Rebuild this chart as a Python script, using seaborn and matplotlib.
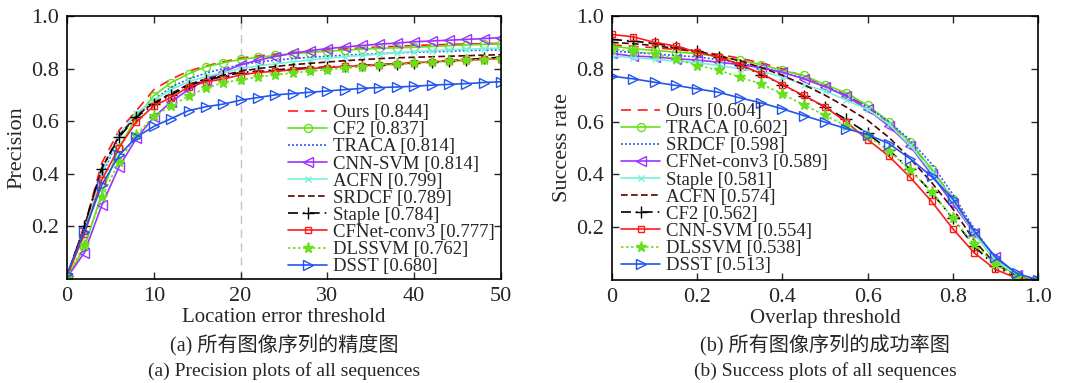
import numpy as np
import pandas as pd
import matplotlib
matplotlib.use("Agg")
import matplotlib.pyplot as plt
import seaborn as sns

# ---------------- data ----------------
prec_x = list(range(0, 51, 2))
prec_names = ["Ours [0.844]", "CF2 [0.837]", "TRACA [0.814]", "CNN-SVM [0.814]",
              "ACFN [0.799]", "SRDCF [0.789]", "Staple [0.784]", "CFNet-conv3 [0.777]",
              "DLSSVM [0.762]", "DSST [0.680]"]
prec_ours = [0.01, 0.20, 0.44, 0.565, 0.64, 0.72, 0.76, 0.79, 0.81, 0.826, 0.84, 0.848, 0.855,
             0.861, 0.866, 0.871, 0.875, 0.879, 0.882, 0.885, 0.888, 0.89, 0.892, 0.894, 0.895, 0.896]
prec_cf2 = [0.005, 0.12, 0.325, 0.50, 0.615, 0.697, 0.747, 0.78, 0.807, 0.822, 0.835, 0.843, 0.85,
            0.857, 0.861, 0.866, 0.87, 0.874, 0.877, 0.879, 0.881, 0.884, 0.887, 0.89, 0.892, 0.894]
prec_traca = [0.015, 0.19, 0.39, 0.54, 0.62, 0.68, 0.73, 0.76, 0.783, 0.80, 0.815, 0.825, 0.832,
              0.838, 0.843, 0.847, 0.851, 0.854, 0.857, 0.86, 0.862, 0.864, 0.866, 0.868, 0.87, 0.871]
prec_cnnsvm = [0.005, 0.10, 0.28, 0.427, 0.535, 0.615, 0.674, 0.72, 0.757, 0.788, 0.814, 0.832, 0.846,
               0.858, 0.868, 0.876, 0.882, 0.888, 0.893, 0.897, 0.902, 0.905, 0.908, 0.911, 0.914, 0.918]
prec_acfn = [0.01, 0.19, 0.40, 0.55, 0.63, 0.68, 0.72, 0.75, 0.77, 0.785, 0.80, 0.81, 0.818,
             0.826, 0.832, 0.84, 0.845, 0.85, 0.855, 0.86, 0.865, 0.868, 0.871, 0.874, 0.876, 0.878]
prec_srdcf = [0.01, 0.20, 0.42, 0.545, 0.62, 0.67, 0.705, 0.74, 0.76, 0.775, 0.79, 0.80, 0.808,
              0.815, 0.82, 0.825, 0.83, 0.834, 0.838, 0.841, 0.843, 0.845, 0.847, 0.849, 0.851, 0.853]
prec_staple = [0.01, 0.20, 0.42, 0.54, 0.615, 0.665, 0.70, 0.735, 0.755, 0.77, 0.785, 0.79, 0.795,
               0.80, 0.803, 0.806, 0.809, 0.812, 0.815, 0.818, 0.822, 0.826, 0.83, 0.834, 0.839, 0.843]
prec_cfnet = [0.01, 0.17, 0.376, 0.50, 0.598, 0.658, 0.69, 0.73, 0.75, 0.76, 0.776, 0.785, 0.79,
              0.795, 0.80, 0.804, 0.808, 0.811, 0.815, 0.818, 0.822, 0.826, 0.829, 0.832, 0.835, 0.838]
prec_dlssvm = [0.005, 0.13, 0.31, 0.446, 0.548, 0.62, 0.658, 0.696, 0.725, 0.747, 0.757, 0.768, 0.776,
               0.784, 0.79, 0.796, 0.802, 0.807, 0.812, 0.816, 0.82, 0.824, 0.828, 0.831, 0.834, 0.837]
prec_dsst = [0.02, 0.18, 0.357, 0.47, 0.54, 0.58, 0.61, 0.64, 0.655, 0.665, 0.68, 0.69, 0.70,
             0.705, 0.71, 0.715, 0.72, 0.725, 0.728, 0.73, 0.733, 0.737, 0.74, 0.743, 0.747, 0.75]

succ_x = [round(0.05 * i, 2) for i in range(21)]
succ_names = ["Ours [0.604]", "TRACA [0.602]", "SRDCF [0.598]", "CFNet-conv3 [0.589]",
              "Staple [0.581]", "ACFN [0.574]", "CF2 [0.562]", "CNN-SVM [0.554]",
              "DLSSVM [0.538]", "DSST [0.513]"]
succ_ours = [0.89, 0.885, 0.88, 0.873, 0.865, 0.855, 0.84, 0.822, 0.80, 0.772, 0.738, 0.70,
             0.655, 0.592, 0.515, 0.42, 0.31, 0.19, 0.08, 0.02, 0.0]
succ_traca = [0.886, 0.876, 0.87, 0.863, 0.858, 0.845, 0.833, 0.816, 0.794, 0.775, 0.74, 0.709,
              0.661, 0.60, 0.522, 0.421, 0.307, 0.179, 0.071, 0.017, 0.0]
succ_srdcf = [0.867, 0.862, 0.856, 0.85, 0.845, 0.835, 0.822, 0.807, 0.787, 0.765, 0.733, 0.70,
              0.655, 0.60, 0.53, 0.44, 0.325, 0.195, 0.08, 0.025, 0.0]
succ_cfnet = [0.858, 0.848, 0.845, 0.838, 0.833, 0.825, 0.816, 0.804, 0.787, 0.762, 0.732, 0.696,
              0.646, 0.583, 0.507, 0.40, 0.289, 0.179, 0.088, 0.02, 0.0]
succ_staple = [0.848, 0.842, 0.836, 0.829, 0.823, 0.813, 0.80, 0.79, 0.77, 0.74, 0.716, 0.681,
               0.646, 0.59, 0.51, 0.41, 0.30, 0.18, 0.075, 0.02, 0.0]
succ_acfn = [0.90, 0.895, 0.888, 0.877, 0.865, 0.85, 0.83, 0.805, 0.775, 0.74, 0.70, 0.655,
             0.605, 0.54, 0.46, 0.37, 0.27, 0.15, 0.06, 0.015, 0.0]
succ_cf2 = [0.911, 0.905, 0.896, 0.883, 0.867, 0.845, 0.816, 0.778, 0.74, 0.696, 0.656, 0.608,
            0.555, 0.492, 0.419, 0.333, 0.233, 0.128, 0.052, 0.01, 0.0]
succ_cnnsvm = [0.93, 0.921, 0.90, 0.886, 0.863, 0.845, 0.816, 0.782, 0.74, 0.699, 0.656, 0.598,
               0.532, 0.469, 0.389, 0.298, 0.194, 0.103, 0.04, 0.007, 0.0]
succ_dlssvm = [0.875, 0.866, 0.856, 0.838, 0.8125, 0.795, 0.768, 0.743, 0.705, 0.663, 0.624, 0.583,
               0.545, 0.49, 0.415, 0.335, 0.235, 0.135, 0.06, 0.012, 0.0]
succ_dsst = [0.772, 0.762, 0.749, 0.737, 0.724, 0.711, 0.69, 0.671, 0.648, 0.623, 0.598, 0.573,
             0.551, 0.517, 0.459, 0.393, 0.307, 0.185, 0.088, 0.025, 0.0]

prec_series = [prec_ours, prec_cf2, prec_traca, prec_cnnsvm, prec_acfn, prec_srdcf,
               prec_staple, prec_cfnet, prec_dlssvm, prec_dsst]
succ_series = [succ_ours, succ_traca, succ_srdcf, succ_cfnet, succ_staple, succ_acfn,
               succ_cf2, succ_cnnsvm, succ_dlssvm, succ_dsst]

# styles by rank
styles = [
    dict(color="#ff1a1a", linestyle=(0, (6, 4)), marker=None, ms=0),
    dict(color="#66e01a", linestyle="-", marker="o", markerfacecolor="none", ms=5.8),
    dict(color="#2a5cff", linestyle=(0, (1.2, 1.2)), marker=None, ms=0),
    dict(color="#9933ff", linestyle="-", marker="<", markerfacecolor="none", ms=6.5),
    dict(color="#77f2d8", linestyle="-", marker="x", ms=5),
    dict(color="#5a0000", linestyle=(0, (4, 2)), marker=None, ms=0),
    dict(color="#000000", linestyle=(0, (6, 3, 1, 3)), marker="+", ms=8),
    dict(color="#ff1a1a", linestyle="-", marker="s", markerfacecolor="none", ms=5),
    dict(color="#66e01a", linestyle=(0, (1.5, 1.5)), marker="*", ms=8),
    dict(color="#2255ee", linestyle="-", marker=">", markerfacecolor="none", ms=6.5),
]

sns.set_style("ticks")
plt.rcParams["font.family"] = ["Liberation Serif", "Noto Sans CJK SC", "DejaVu Sans"]

fig = plt.figure(figsize=(10.65, 3.83), dpi=100)
W, H = 1065, 383
ax1 = fig.add_axes([67 / W, 1 - 279 / H, (501 - 67) / W, (279 - 16) / H])
ax2 = fig.add_axes([612 / W, 1 - 280 / H, (1038 - 612) / W, (280 - 16) / H])

def draw(ax, xs, series, names):
    for ys, nm, st in zip(series, names, styles):
        extra = {}
        if st["marker"] is not None:
            extra["marker"] = st["marker"]
            extra["markersize"] = st["ms"]
            extra["markeredgecolor"] = st["color"]
            extra["markeredgewidth"] = 1.0
            if "markerfacecolor" in st:
                extra["markerfacecolor"] = st["markerfacecolor"]
        sns.lineplot(x=xs, y=ys, ax=ax, color=st["color"], linestyle=st["linestyle"],
                     linewidth=1.2, label=nm, **extra)

draw(ax1, prec_x, prec_series, prec_names)
draw(ax2, succ_x, succ_series, succ_names)

ax1.axvline(20, color="#c4c4c4", linestyle=(0, (6, 4)), linewidth=1.0, zorder=0)

for ax in (ax1, ax2):
    ax.set_ylim(0, 1.0)
    ax.set_yticks([0.2, 0.4, 0.6, 0.8, 1.0])
    ax.set_yticklabels(["0.2", "0.4", "0.6", "0.8", "1.0"])
    ax.tick_params(direction="in", top=True, right=True, labelsize=16, length=5, width=1,
                   pad=6)
    for sp in ax.spines.values():
        sp.set_visible(True)
        sp.set_linewidth(1.2)
        sp.set_color("black")
    ax.set_facecolor("white")

ax1.set_xlim(0, 50)
ax1.set_xticks([0, 10, 20, 30, 40, 50])
ax1.set_xticklabels(["0", "10", "20", "30", "40", "50"])
ax2.set_xlim(0, 1.0)
ax2.set_xticks([0, 0.2, 0.4, 0.6, 0.8, 1.0])
ax2.set_xticklabels(["0", "0.2", "0.4", "0.6", "0.8", "1.0"])

ax1.set_xlabel("")
ax2.set_xlabel("")
ax1.set_ylabel("Precision", fontsize=16, labelpad=3)
ax2.set_ylabel("Success rate", fontsize=16, labelpad=3)

leg_kw = dict(frameon=False, fontsize=13.5, borderpad=0, borderaxespad=0,
              handlelength=2.1, handletextpad=0.3, labelspacing=0.0, loc="upper left")
ax1.legend(bbox_to_anchor=(288 / W, 1 - 104 / H), bbox_transform=fig.transFigure, **leg_kw)
ax2.legend(bbox_to_anchor=(621 / W, 1 - 103 / H), bbox_transform=fig.transFigure, **leg_kw)

fig.text(284 / W, 1 - 318 / H, "Location error threshold", ha="center", va="center", fontsize=15)
fig.text(825 / W, 1 - 318 / H, "Overlap threshold", ha="center", va="center", fontsize=15)
fig.text(284 / W, 1 - 345 / H, "(a) 所有图像序列的精度图", ha="center", va="center", fontsize=14.5)
fig.text(825 / W, 1 - 345 / H, "(b) 所有图像序列的成功率图", ha="center", va="center", fontsize=14.5)
fig.text(284 / W, 1 - 371 / H, "(a) Precision plots of all sequences", ha="center", va="center", fontsize=14)
fig.text(825 / W, 1 - 371 / H, "(b) Success plots of all sequences", ha="center", va="center", fontsize=14)

fig.savefig("out.png", dpi=100, facecolor="white")
